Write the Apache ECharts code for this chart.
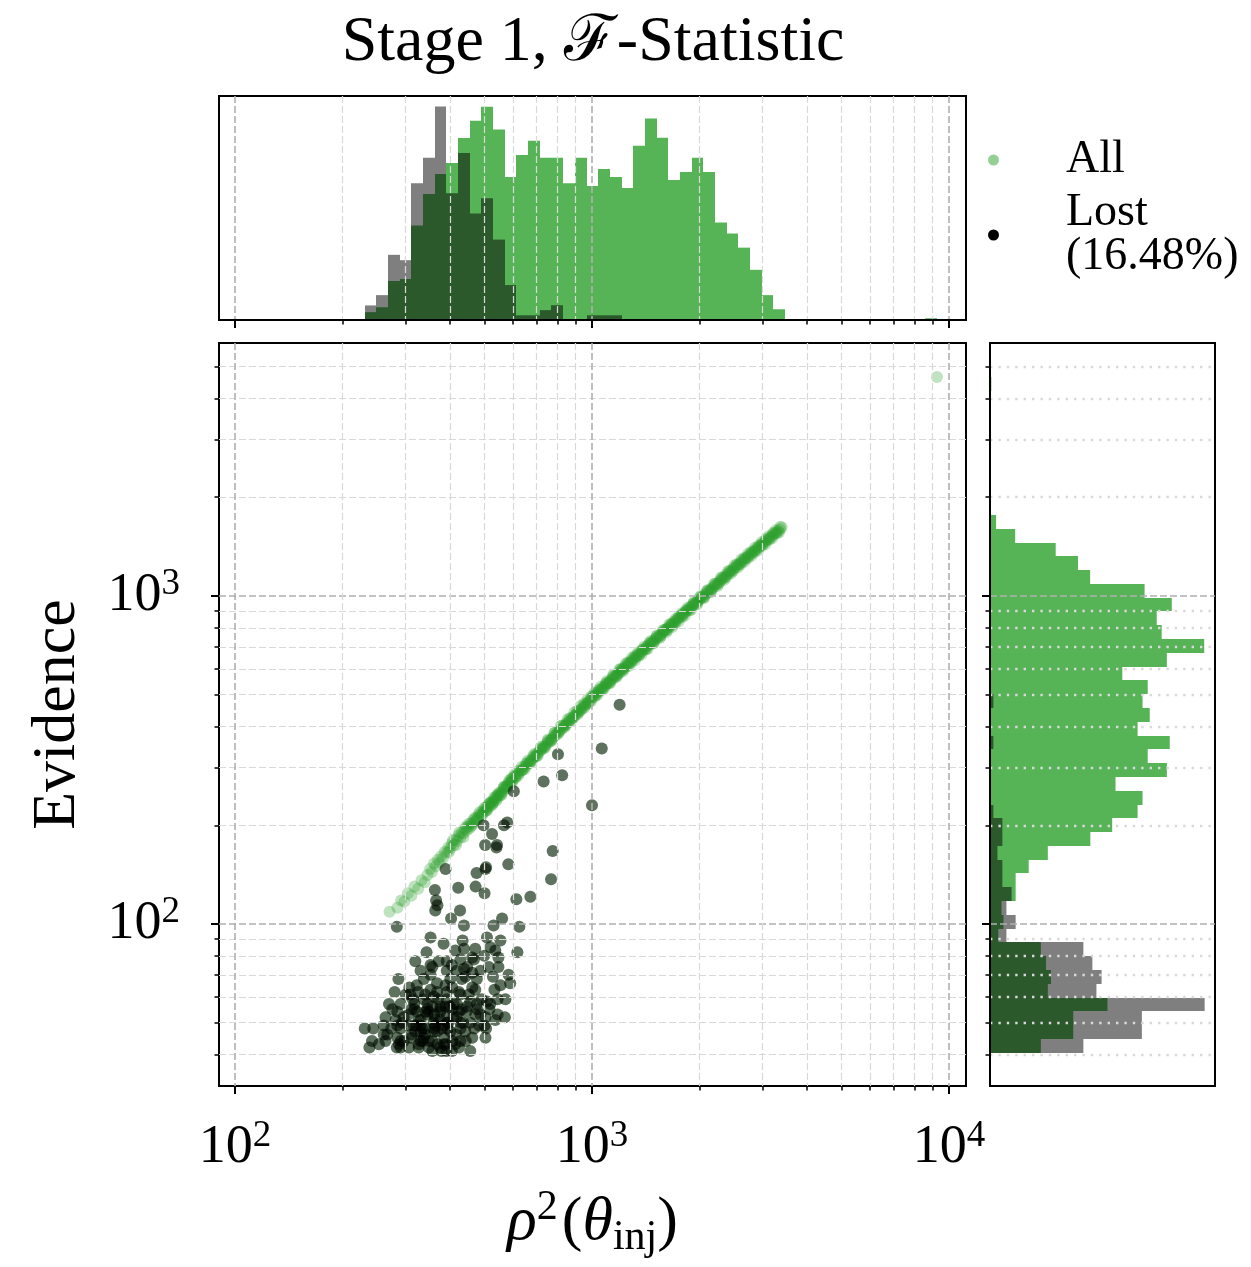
<!DOCTYPE html>
<html><head><meta charset="utf-8">
<script src="https://cdn.jsdelivr.net/npm/echarts@6/dist/echarts.min.js"></script>
<style>html,body{margin:0;padding:0;background:#fff}#c{width:1251px;height:1267px}</style>
</head><body><div id="c"></div>
<script>
// ---------------- data ----------------
const xRange = [90.2, 11160];      // rho^2 axis extent
const yRange = [32.07, 5906];      // Evidence axis extent
const xMajorTicks = [100, 1000, 10000];
const xMinorTicks = [200,300,400,500,600,700,800,900,2000,3000,4000,5000,6000,7000,8000,9000];
const yMajorTicks = [100, 1000];
const yMinorTicks = [40,50,60,70,80,90,200,300,400,500,600,700,800,900,2000,3000,4000,5000];

// scatter: injections that were kept (along the main relation), read along the band
const allPoints = [
[271,109],[285,112],[292,118],[298,117],[305,124],[312,122],[318,130],[326,128],[333,136],[340,134],[346,141],
[352,147],[356,144],[361,153],[365,150],[370,157],[374,154],[378,161],[383,159],[387,166],[392,165],[396,171],[401,170],[405,176],[410,174],[414,181],[419,179],[423,186],[428,184],[432,190],[437,189],[441,195],[446,193],
[398,166],[408,180],[416,174],[425,190],[436,184],[444,198],
[450,198],[454,196],[458,203],[462,201],[466,207],[470,205],[474,211],[478,209],[482,215],[486,213],[490,219],[494,217],[498,223],[502,221],[506,227],[510,225],[514,231],[518,229],[522,235],[526,233],[530,239],[534,238],[538,244],[542,242],[546,248],[550,246],[555,252],[560,252],[565,259],[570,258],[575,264],[580,264],[585,270],[590,270],[595,276],[600,275],
[605,281],[612,282],[618,287],[625,288],[632,294],[638,295],[645,301],[652,302],[659,308],[666,309],[673,315],[680,317],[687,322],[694,324],[701,331],[709,333],[717,339],[725,341],[733,347],[741,350],[749,356],[757,358],[765,364],[773,367],[781,373],[790,376],[798,382],[807,386],[815,391],[824,394],[833,401],[842,404],[851,410],[860,413],[869,419],[878,423],[888,429],[897,433],[907,439],[917,443],[927,450],[937,453],[947,460],[957,464],[968,471],[978,475],[989,482],[1000,489],
[1010,496],[1021,499],[1031,506],[1042,510],[1052,516],[1063,520],[1074,527],[1085,531],[1096,538],[1107,542],[1118,548],[1129,554],[1141,558],[1152,565],[1164,570],[1176,577],[1188,581],[1200,589],[1212,596],[1224,601],[1237,609],[1249,613],[1262,621],[1275,626],[1288,634],[1301,639],[1314,647],[1327,651],[1341,660],[1354,664],[1368,673],[1382,678],[1396,687],[1410,692],[1424,700],[1438,706],[1453,714],[1467,719],[1482,728],[1497,733],[1512,742],[1527,747],[1543,757],[1558,762],[1574,772],[1590,778],[1606,788],[1622,794],[1638,803],[1655,810],[1671,819],[1688,826],[1705,836],[1722,842],[1740,853],[1757,859],[1775,870],[1793,877],[1811,887],[1829,894],[1847,904],[1866,912],[1885,922],[1904,930],[1923,941],[1942,948],[1962,959],[1981,966],[2001,976],
[2023,986],[2045,995],[2068,1008],[2091,1017],[2114,1030],[2137,1039],[2161,1052],[2185,1062],[2209,1075],[2233,1085],[2258,1099],[2283,1109],[2308,1122],[2334,1135],[2360,1146],[2386,1160],[2412,1171],[2439,1186],[2466,1197],[2493,1212],[2521,1224],[2549,1238],[2577,1250],[2606,1263],[2635,1277],[2664,1290],[2693,1303],[2723,1316],[2753,1330],[2784,1343],[2815,1357],[2846,1371],[2877,1385],[2909,1399],[2941,1414],[2974,1428],[3007,1443],[3040,1456],[3074,1473],[3108,1487],[3143,1504],[3178,1517],[3213,1534],[3249,1550],[3285,1565],[3322,1582],[3359,1598],[3400,1618],
[452,202],[460,199],[468,210],[476,207],[484,219],[492,215],[500,226],[508,222],[516,234],[524,230],[532,243],[540,238],[548,251],[557,247],[567,262],[577,259],[587,274],[597,270],
[608,286],[621,283],[635,301],[648,297],[662,315],[676,311],[690,330],[705,326],[721,347],[737,344],[753,365],[769,361],[785,383],[802,379],[819,402],[837,397],[855,421],[874,416],[893,442],[912,436],[932,463],[952,456],[973,484],[994,478],
[1016,507],[1037,500],[1058,529],[1080,521],[1102,551],[1124,542],[1146,574],[1170,565],[1194,598],[1218,589],[1243,622],[1268,612],[1294,648],[1320,637],[1347,674],[1375,663],[1403,701],[1431,689],[1460,729],[1489,717],[1519,758],[1550,745],[1582,788],[1614,775],[1646,819],[1679,805],[1713,851],[1748,838],[1784,886],[1820,872],[1857,922],[1894,907],[1932,959],[1971,944],
[2012,998],[2056,984],[2102,1042],[2149,1027],[2197,1088],[2246,1073],[2296,1136],[2347,1120],[2399,1187],[2452,1170],[2507,1240],[2563,1221],[2620,1292],[2678,1272],[2738,1347],[2799,1326],[2861,1403],[2925,1381],[2990,1461],[3057,1439],[3126,1522],[3196,1499],[3268,1586],[3341,1562],
[505,222],[517,234],[529,234],[542,247],[555,248],[568,262],[581,263],[595,278],[609,278],[624,293],[639,294],[654,309],[669,310],[685,326],[701,326],[718,343],[735,345],[752,362],[770,364],[788,383],[807,384],[826,403],[846,404],[866,424],[886,425],[907,446],[929,447],[951,470],[973,470],[996,494],
[1020,494],[1044,518],[1069,518],[1094,543],[1120,544],[1147,570],[1174,571],[1202,598],[1230,598],[1259,627],[1289,626],[1320,657],[1351,656],[1383,687],[1416,687],[1450,720],[1484,719],[1519,754],[1555,752],[1592,788],[1630,788],[1669,825],[1708,824],[1749,864],[1790,863],[1833,905],[1876,904],[1921,948],[1966,947],
[2013,993],[2061,992],[2110,1040],[2160,1039],[2211,1089],[2263,1088],[2317,1140],[2372,1139],[2428,1194],[2486,1193],[2545,1250],[2605,1247],[2667,1306],[2730,1303],[2795,1364],[2861,1362],[2929,1425],[2998,1422],[3069,1489],[3142,1485],[3217,1555],[3293,1552],[3371,1625],
[9255,4650]
];

// scatter: lost injections
const lostPoints = [
[1195,466],[1065,343],[803,329],[825,284],[732,272],[604,254],[1000,230],[497,200],[579,204],[567,200],[525,188],[502,174],[542,174],[540,171],[776,167],[583,152],[503,147],[505,149],[475,143],[389,147],[768,137],[422,129],[472,130],[363,127],[500,124],[366,118],[369,114],[614,119],[672,121],[427,110],[403,104],[560,104],[364,110],
[284,98],[438,99],[530,99],[626,98],[353,91],[384,87],[434,89],[508,91],[554,89],[344,82],[414,83],[438,84],[471,84],[519,85],[618,82],[320,77],[353,75],[372,77],[405,75],[438,73],[467,78],[487,72],[514,74],[547,74],[331,72],[338,68],[368,66],[401,68],[442,69],[476,68],[528,69],[584,70],[590,66],[287,68],[308,64],[280,62],[318,57],[338,59],[361,60],[392,62],[424,62],[452,61],[491,59],[270,57],[346,55],[376,56],[410,57],[447,56],[476,57],[508,58],[285,54],[264,52],[324,54],[361,53],[392,52],[418,52],[471,53],[503,52],[544,53],[570,52],[231,48],[261,49],[291,48],[307,49],[331,49],[361,48],[384,49],[428,50],[442,47],[261,46],[285,45],[331,47],[368,47],[503,45],[242,44],[291,44],[335,44],[357,44],[349,42],[384,43],[238,42],[288,43],[405,41],[424,42],
[357,74],[392,72],[341,61],[368,62],[392,59],[312,55],[357,56],[376,54],[405,55],[297,52],[327,51],[346,53],[392,50],[285,49],[335,48],[364,49],[267,46],[320,47],[341,46],[401,47],[312,45],[331,44],[389,43],[291,42],[376,42],[536,83],[392,77],[428,78],[462,79],[499,80],[547,79],[418,72],[447,74],[432,68],[462,64],[389,56],[418,57],[424,54],[428,48],
[301,61],[315,59],[326,62],[349,54],[364,51],[371,59],[380,48],[396,50],[406,44],[416,46],[432,55],[443,44],[456,50],[468,48],[487,53],[500,49],[519,57],[533,63],[544,59],[317,49],[327,42],[338,45],[307,42],[294,50],[357,41],[391,41],[376,51],[342,54],[323,65],[353,70],[406,64],[462,71],[554,65],[572,59],[282,51],[274,48],[253,43],[244,48],
[291,57],[306,53],[318,55],[331,51],[346,57],[360,50],[376,55],[394,48],[409,52],[428,44],[445,54],[462,45],[483,49],[312,46],[327,43],[342,48],[369,43],[386,45],[414,43],[436,50],[456,58],[477,55],[505,48],[297,44],[284,42],[353,63],[389,65],[428,61],[471,63],[516,55],[536,51],[310,61],[264,44],[276,55],[456,41],[379,41],[349,44],[399,56],[322,49],[362,47]
];

// marginal histograms (49 log-spaced bins, normalised heights, frame = 100)
const nBins = 49;
const rhoBinRange = [230.7, 9255];
const evBinRange = [40.5, 4650];
const rhoHistAll = [3.5,5.7,17.4,18.3,42.2,56.2,65.2,70.1,81.2,89.0,95.2,85.0,63.8,73.7,80.0,72.4,72.4,61.1,72.4,59.8,67.4,63.8,58.9,77.8,89.9,81.4,62.5,66.1,72.4,66.1,43.5,38.6,32.3,22.4,11.1,4.8,0,0,0,0,0,0,0,0,0,0,0,0,0.8];
const rhoHistLost = [6.5,11.1,29.1,26.7,61.1,72.4,95.3,56.6,74.6,47.6,54.4,35.9,15.6,2.1,2.1,4.4,6.6,0,0,2.1,2.1,2.1,0,0,0,0,0,0,0,0,0,0,0,0,0,0,0,0,0,0,0,0,0,0,0,0,0,0,0];
const evHistAll = [22.6,37.0,37.0,52.2,25.7,27.1,24.9,22.6,3.7,6.0,5.1,11.4,11.4,17.2,25.7,44.6,54.3,65.6,67.8,55.8,78.6,70.1,79.9,65.6,71.0,67.8,70.1,58.8,78.6,95.2,76.3,74.1,80.8,68.7,44.5,39.1,29.2,11.2,2.7,0,0,0,0,0,0,0,0,0,0.6];
const evHistLost = [41.5,67.5,67.5,95.4,47.3,49.6,45.5,41.5,7.3,11.4,7.3,9.6,5.5,5.5,3.3,5.5,5.5,1.5,0,0,0,0,1.5,0,0,1.5,0,0,0,0,0,0,0,0,0,0,0,0,0,0,0,0,0,0,0,0,0,0,0];

const legendNames = ['All', 'Lost'];
const lostFraction = '16.48%';

// ---------------- helpers ----------------
const L = Math.log10;
const SERIF = '"Liberation Serif","DejaVu Serif",serif';

function logEdges(range, n) {
  const a = L(range[0]), b = L(range[1]);
  const e = [];
  for (let i = 0; i <= n; i++) e.push(a + (b - a) * i / n);
  return e;
}
const rhoEdges = logEdges(rhoBinRange, nBins);
const evEdges = logEdges(evBinRange, nBins);

function vBars(h) { const d = []; h.forEach((v, i) => { if (v > 0) d.push([rhoEdges[i], rhoEdges[i + 1], v]); }); return d; }
function hBars(h) { const d = []; h.forEach((v, i) => { if (v > 0) d.push([v, evEdges[i], evEdges[i + 1]]); }); return d; }

const R = Math.round;
function vRender(fill) {
  return function (params, api) {
    const p0 = api.coord([api.value(0), 0]);
    const p1 = api.coord([api.value(1), api.value(2)]);
    const x0 = R(p0[0]), x1 = R(p1[0]);
    return { type: 'rect', shape: { x: x0, y: p1[1], width: x1 - x0, height: p0[1] - p1[1] }, style: { fill: fill } };
  };
}
function hRender(fill) {
  return function (params, api) {
    const p0 = api.coord([0, api.value(1)]);
    const p1 = api.coord([api.value(0), api.value(2)]);
    const y0 = R(p0[1]), y1 = R(p1[1]);
    return { type: 'rect', shape: { x: p0[0], y: y1, width: p1[0] - p0[0], height: y0 - y1 }, style: { fill: fill } };
  };
}

const tickRich = {
  b: { fontFamily: SERIF, fontSize: 54, color: '#000', lineHeight: 60 },
  s: { fontFamily: SERIF, fontSize: 37, color: '#000', verticalAlign: 'top', lineHeight: 60, padding: [0, 0, 22, 0] }
};
const powLabel = v => '{b|10}{s|' + Math.round(v) + '}';

const MAJ_GRID = { color: '#b0b0b0', width: 1.6, type: [7, 3] };
const MIN_GRID = { color: '#d9d9d9', width: 1.2, type: [7, 3] };
const DOT_GRID = { color: '#d9d9d9', width: 2.4, type: [2.4, 6] };

function axisBase(grid, range, pos, extra) {
  return Object.assign({
    type: 'value', gridIndex: grid, min: L(range[0]), max: L(range[1]), z: 5, position: pos,
    axisLine: { show: false }, axisLabel: { show: false }, axisTick: { show: false }, splitLine: { show: false }
  }, extra);
}
function ticks(vals, len, w) {
  return { show: true, customValues: vals.map(L), length: len, inside: false, lineStyle: { color: '#000', width: w } };
}

const xMajL = xMajorTicks.map(L), yMajL = yMajorTicks.map(L);

const option = {
  animation: false,
  backgroundColor: '#fff',
  grid: [
    { left: 219, top: 96, width: 747, height: 224, show: true, borderColor: '#000', borderWidth: 2 },
    { left: 219, top: 343, width: 747, height: 743, show: true, borderColor: '#000', borderWidth: 2 },
    { left: 990, top: 343, width: 225, height: 743, show: true, borderColor: '#000', borderWidth: 2 }
  ],
  xAxis: [
    axisBase(0, xRange, 'bottom', { axisTick: ticks(xMinorTicks, 4.5, 1.5), splitLine: { show: true, lineStyle: MIN_GRID } }),
    axisBase(0, xRange, 'bottom', { axisTick: ticks(xMajorTicks, 8, 2), splitLine: { show: true, lineStyle: MAJ_GRID },
      axisLine: { show: true, lineStyle: { color: '#000', width: 2 } } }),
    axisBase(1, xRange, 'bottom', { axisTick: ticks(xMinorTicks, 4.5, 1.5), splitLine: { show: true, lineStyle: MIN_GRID } }),
    axisBase(1, xRange, 'bottom', { axisTick: ticks(xMajorTicks, 8, 2), splitLine: { show: true, lineStyle: MAJ_GRID },
      axisLabel: { show: true, customValues: xMajL, formatter: powLabel, rich: tickRich, margin: 32 },
      name: '{i|ρ}{s|2}{n|(}{i|θ}{u|inj}{n|)}', nameLocation: 'middle', nameGap: 101,
      nameTextStyle: { rich: {
        i: { fontFamily: SERIF, fontSize: 62, fontStyle: 'italic', color: '#000', lineHeight: 72 },
        n: { fontFamily: SERIF, fontSize: 62, color: '#000', lineHeight: 72 },
        s: { fontFamily: SERIF, fontSize: 42, color: '#000', verticalAlign: 'top', lineHeight: 72, padding: [0, 4, 30, 0] },
        u: { fontFamily: SERIF, fontSize: 42, color: '#000', verticalAlign: 'bottom', lineHeight: 72, padding: [14, 0, 0, 0] }
      } } }),
    { type: 'value', gridIndex: 2, min: 0, max: 100, show: false }
  ],
  yAxis: [
    { type: 'value', gridIndex: 0, min: 0, max: 100, show: false },
    axisBase(1, yRange, 'left', { axisTick: ticks(yMinorTicks, 4.5, 1.5), splitLine: { show: true, lineStyle: MIN_GRID } }),
    axisBase(1, yRange, 'left', { axisTick: ticks(yMajorTicks, 8, 2), splitLine: { show: true, lineStyle: MAJ_GRID },
      axisLabel: { show: true, customValues: yMajL, formatter: powLabel, rich: tickRich, margin: 39 },
      name: 'Evidence', nameLocation: 'middle', nameGap: 130, nameRotate: 90,
      nameTextStyle: { fontFamily: SERIF, fontSize: 62, color: '#000' } }),
    axisBase(2, yRange, 'left', { axisTick: ticks(yMinorTicks, 4.5, 1.5), splitLine: { show: true, lineStyle: DOT_GRID } }),
    axisBase(2, yRange, 'left', { axisTick: ticks(yMajorTicks, 8, 2), splitLine: { show: true, lineStyle: MAJ_GRID },
      axisLine: { show: true, lineStyle: { color: '#000', width: 2 } } })
  ],
  legend: {
    orient: 'vertical', left: 983, top: 132, itemWidth: 11, itemHeight: 11, itemGap: 7, icon: 'circle',
    data: [
      { name: legendNames[0], itemStyle: { color: 'rgba(44,160,44,0.5)', opacity: 1 } },
      { name: legendNames[1], itemStyle: { color: '#000', opacity: 1 } }
    ],
    formatter: n => n === legendNames[1] ? n + '\n(' + lostFraction + ')' : n,
    textStyle: { fontFamily: SERIF, fontSize: 46, color: '#000', lineHeight: 44, padding: [0, 0, 0, 62] }
  },
  graphic: [
    { type: 'text', x: 593, y: 43, z: 10,
      style: { text: 'Stage 1, ℱ-Statistic', font: '64px ' + SERIF, fill: '#000', textAlign: 'center', textVerticalAlign: 'middle' } }
  ],
  series: [
    { name: 'All ρ² hist', type: 'custom', xAxisIndex: 1, yAxisIndex: 0, renderItem: vRender('rgba(44,160,44,0.8)'),
      encode: { x: [0, 1], y: 2 }, data: vBars(rhoHistAll), z: 2 },
    { name: 'Lost ρ² hist', type: 'custom', xAxisIndex: 1, yAxisIndex: 0, renderItem: vRender('rgba(0,0,0,0.5)'),
      encode: { x: [0, 1], y: 2 }, data: vBars(rhoHistLost), z: 3 },
    { name: legendNames[0], type: 'scatter', xAxisIndex: 3, yAxisIndex: 2, symbolSize: 12,
      itemStyle: { color: 'rgba(44,160,44,0.3)', opacity: 1 },
      data: allPoints.concat(lostPoints).map(p => [L(p[0]), L(p[1])]), z: 2 },
    { name: legendNames[1], type: 'scatter', xAxisIndex: 3, yAxisIndex: 2, symbolSize: 12,
      itemStyle: { color: 'rgba(0,0,0,0.5)', opacity: 1 },
      data: lostPoints.map(p => [L(p[0]), L(p[1])]), z: 3 },
    { name: 'All evidence hist', type: 'custom', xAxisIndex: 4, yAxisIndex: 4, renderItem: hRender('rgba(44,160,44,0.8)'),
      encode: { x: 0, y: [1, 2] }, data: hBars(evHistAll), z: 2 },
    { name: 'Lost evidence hist', type: 'custom', xAxisIndex: 4, yAxisIndex: 4, renderItem: hRender('rgba(0,0,0,0.5)'),
      encode: { x: 0, y: [1, 2] }, data: hBars(evHistLost), z: 3 }
  ]
};

const chart = echarts.init(document.getElementById('c'), null, { renderer: 'canvas', width: 1251, height: 1267 });
chart.setOption(option);
</script></body></html>
